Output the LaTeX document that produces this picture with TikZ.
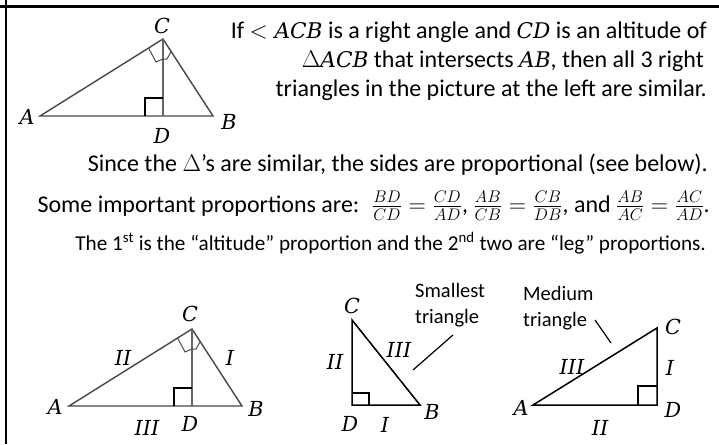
\RequirePackage{fix-cm}
\documentclass[tikz,border=0pt]{standalone}
\usepackage{amsmath}
\usepackage{fontspec}
\setmainfont{Carlito}
\newfontfamily\dvs{DejaVu Serif}[Scale=0.9]
\newcommand{\mi}[1]{\text{\dvs\itshape #1}}
\usetikzlibrary{calc}
\begin{document}
\begin{tikzpicture}[x=1pt,y=-1pt,
  txt/.style={font=\fontsize{24}{29}\selectfont, inner sep=0pt},
  lasttxt/.style={font=\fontsize{21.2}{26}\selectfont, inner sep=0pt},
  smalltxt/.style={font=\fontsize{20.5}{26}\selectfont, inner sep=0pt},
  lbl/.style={font=\fontsize{23}{27}\selectfont\dvs\itshape, inner sep=0pt},
  side/.style={draw=black!72, line width=1.4pt},
  alt/.style={draw=black!60, line width=2.4pt},
  ramark/.style={draw=black, line width=1.3pt},
  angmark/.style={draw=black!70, line width=1pt},
  tedge/.style={draw=black, line width=1.5pt},
  lead/.style={draw=black, line width=1.2pt},
]
\useasboundingbox (0,0) rectangle (719,444);
\fill[white] (0,0) rectangle (719,444);
% frame
\coordinate (f1) at (0,6.5); \coordinate (f2) at (719,6.5);
\coordinate (f3) at (6,0);   \coordinate (f4) at (6,444);
\draw[line width=2.5pt] (f1) -- (f2);
\draw[line width=2.5pt] (f3) -- (f4);

% ---------- top triangle ----------
\coordinate (tA) at (40,116);
\coordinate (tC) at (163,39);
\coordinate (tB) at (213,116);
\coordinate (tD) at (163,116);
\draw[side] (tA) -- (tC) -- (tB) -- cycle;
\draw[alt] (tC) -- (tD);
\draw[ramark] ($(tD)+(-18,0)$) -- ++(0,-18) -- ++(18,0);
\draw[angmark] ($(tC)!17pt!(tA)$) -- ($(tC)+(-7,23)$) -- ($(tC)+(0,20)$);
\draw[angmark] ($(tC)!15pt!(tB)$) -- ($(tC)+(4,20)$) -- ($(tC)+(0,20)$);
\node[lbl] (tCl) at (162,26) {C};
\node[lbl] (tAl) at (27,117) {A};
\node[lbl] (tBl) at (229,122) {B};
\node[lbl] (tDl) at (162,136) {D};

% ---------- text ----------
\node[txt, anchor=base east] (l1) at (707,38) {If $<\mi{ACB}$ is a right angle and $\mi{CD}$ is an altitude of};
\node[txt, anchor=base east] (l2) at (704,67) {$\Delta\mi{ACB}$ that intersects $\mi{AB}$, then all 3 right};
\node[txt, anchor=base east] (l3) at (707,96) {triangles in the picture at the left are similar.};
\node[txt, anchor=base east] (l4) at (708,171) {Since the $\Delta$’s are similar, the sides are proportional (see below).};
\node[txt, anchor=base east] (l5) at (710,212) {Some important proportions are: \ $\frac{BD}{CD}=\frac{CD}{AD}$, $\frac{AB}{CB}=\frac{CB}{DB}$, and $\frac{AB}{AC}=\frac{AC}{AD}$.};
\node[lasttxt, anchor=base east] (l6) at (706,250) {The 1\textsuperscript{st} is the “altitude” proportion and the 2\textsuperscript{nd} two are “leg” proportions.};

% ---------- bottom-left triangle ----------
\coordinate (bA) at (69,406);
\coordinate (bC) at (192,329);
\coordinate (bB) at (242,406);
\coordinate (bD) at (192,406);
\draw[side] (bA) -- (bC) -- (bB) -- cycle;
\draw[alt] (bC) -- (bD);
\draw[ramark] ($(bD)+(-18,0)$) -- ++(0,-18) -- ++(18,0);
\draw[angmark] ($(bC)!17pt!(bA)$) -- ($(bC)+(-7,23)$) -- ($(bC)+(0,20)$);
\draw[angmark] ($(bC)!15pt!(bB)$) -- ($(bC)+(4,20)$) -- ($(bC)+(0,20)$);
\node[lbl] (bCl) at (190,314) {C};
\node[lbl] (bAl) at (55,407) {A};
\node[lbl] (bBl) at (256,409) {B};
\node[lbl] (bDl) at (190,424) {D};
\node[lbl] (bII) at (123,358) {II};
\node[lbl] (bI) at (230,358) {I};
\node[lbl] (bIII) at (147,428) {III};

% ---------- smallest triangle ----------
\coordinate (sC) at (352,320);
\coordinate (sD) at (352,405);
\coordinate (sB) at (420,405);
\draw[tedge] (sC) -- (sD) -- (sB) -- cycle;
\draw[ramark] ($(sD)+(0,-12)$) -- ++(17,0) -- ++(0,12);
\node[lbl] (sCl) at (352,306) {C};
\node[lbl] (sII) at (335,362) {II};
\node[lbl] (sIII) at (399,350) {III};
\node[lbl] (sDl) at (350,424) {D};
\node[lbl] (sI) at (385,425) {I};
\node[lbl] (sBl) at (432,412) {B};
\node[smalltxt, align=left, anchor=west] (stxt) at (415,305) {Smallest\\triangle};
\coordinate (sl1) at (413,370);
\coordinate (sl2) at (453,335);
\draw[lead] (sl1) -- (sl2);

% ---------- medium triangle ----------
\coordinate (mA) at (533,405);
\coordinate (mC) at (657,328);
\coordinate (mD) at (657,405);
\draw[tedge] (mA) -- (mC) -- (mD) -- cycle;
\draw[ramark] ($(mD)+(-19,0)$) -- ++(0,-19) -- ++(19,0);
\node[lbl] (mCl) at (673,327) {C};
\node[lbl] (mAl) at (521,408) {A};
\node[lbl] (mDl) at (673,410) {D};
\node[lbl] (mI) at (670,368) {I};
\node[lbl] (mIII) at (572,367) {III};
\node[lbl] (mII) at (600,428) {II};
\node[smalltxt, align=left, anchor=west] (mtxt) at (523,308) {Medium\\triangle};
\coordinate (ml1) at (595,320);
\coordinate (ml2) at (611,343);
\draw[lead] (ml1) -- (ml2);
\end{tikzpicture}
\end{document}
